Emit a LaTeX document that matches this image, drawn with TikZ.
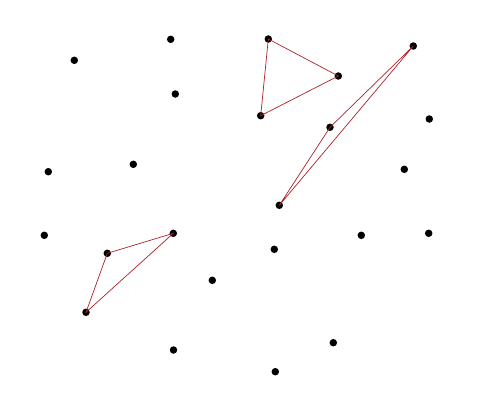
\documentclass[tikz,border=0pt]{standalone}
\definecolor{edgered}{RGB}{170,35,40}
\begin{document}
\begin{tikzpicture}[x=1pt,y=-1pt,
  dot/.style={circle,fill=black,inner sep=0pt,minimum size=7.5pt},
  edge/.style={draw=edgered,line width=0.7pt}]
\useasboundingbox[fill=white] (0,0) rectangle (495,413);
% free points
\node[dot] (p1) at (74.3,60.3) {};
\node[dot] (p2) at (170.7,39.3) {};
\node[dot] (p3) at (175.3,94) {};
\node[dot] (p4) at (133.3,164.3) {};
\node[dot] (p5) at (48.3,171.7) {};
\node[dot] (p6) at (44.3,235.3) {};
\node[dot] (p7) at (212.3,280.3) {};
\node[dot] (p8) at (173.5,350) {};
\node[dot] (p9) at (275.3,371.7) {};
\node[dot] (p10) at (333.3,342.7) {};
\node[dot] (p11) at (274.3,249.3) {};
\node[dot] (p12) at (361.3,235.3) {};
\node[dot] (p13) at (428.7,233.3) {};
\node[dot] (p14) at (404.3,169.3) {};
\node[dot] (p15) at (429.3,119) {};
% triangle A
\node[dot] (a1) at (268.3,39) {};
\node[dot] (a2) at (338.3,76) {};
\node[dot] (a3) at (260.7,115.7) {};
% triangle B
\node[dot] (b1) at (413.3,46) {};
\node[dot] (b2) at (330,127.3) {};
\node[dot] (b3) at (279.3,205.3) {};
% triangle C
\node[dot] (c1) at (173.3,233.3) {};
\node[dot] (c2) at (107.3,253.3) {};
\node[dot] (c3) at (86,312.3) {};
\draw[edge] (a1.center) -- (a2.center) -- (a3.center) -- cycle;
\draw[edge] (b1.center) -- (b2.center) -- (b3.center) -- cycle;
\draw[edge] (c1.center) -- (c2.center) -- (c3.center) -- cycle;
\end{tikzpicture}
\end{document}
